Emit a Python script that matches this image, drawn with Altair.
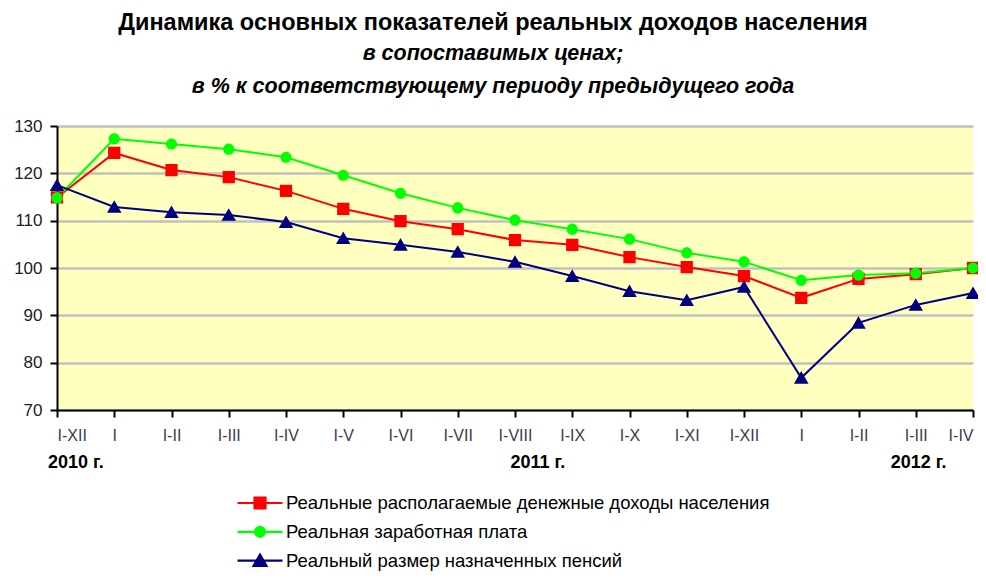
import altair as alt
import pandas as pd

# ---- data ----
period_labels = ["I-XII", "I", "I-II", "I-III", "I-IV", "I-V", "I-VI", "I-VII", "I-VIII",
                 "I-IX", "I-X", "I-XI", "I-XII", "I", "I-II", "I-III", "I-IV"]
series_names = [
    "Реальные располагаемые денежные доходы населения",
    "Реальная заработная плата",
    "Реальный размер назначенных пенсий",
]
income = [114.9, 124.3, 120.7, 119.2, 116.3, 112.5, 109.9, 108.2, 105.9,
          104.9, 102.3, 100.2, 98.3, 93.7, 97.7, 98.7, 100.0]
wages = [114.8, 127.3, 126.2, 125.1, 123.4, 119.6, 115.8, 112.7, 110.1,
         108.2, 106.1, 103.2, 101.3, 97.4, 98.5, 98.9, 100.0]
pensions = [117.5, 112.9, 111.8, 111.2, 109.7, 106.3, 104.9, 103.4, 101.3,
            98.3, 95.1, 93.2, 96.0, 76.8, 88.4, 92.2, 94.7]
year_labels = ["2010 г.", "2011 г.", "2012 г."]
year_pos = [0, 8.4, 15.05]

colors = ["#FF0000", "#00FF00", "#000080"]
# marker shapes (unit = half of sqrt(size)); the open "M..H.." pieces are the legend line,
# which has no area and so is only visible where a stroke is drawn (the legend)
LINE = "M-1.8,0H-0.3M0.3,0H1.8"
shapes = [
    LINE + "M-0.44,-0.44H0.44V0.44H-0.44Z",
    LINE + "M-0.4,0A0.4,0.4 0 1,0 0.4,0A0.4,0.4 0 1,0 -0.4,0Z",
    LINE + "M0,-0.48L0.52,0.42L-0.52,0.42Z",
]

rows = []
for k, (s, vals) in enumerate(zip(series_names, [income, wages, pensions])):
    for i, v in enumerate(vals):
        rows.append({"idx": i, "series": s, "value": v, "order": k})
df = pd.DataFrame(rows)
years_df = pd.DataFrame({"year": year_labels, "pos": year_pos})

FONT = "Liberation Sans"
label_js = "[" + ",".join(f"'{l}'" for l in period_labels) + "]"

x_enc = alt.X(
    "idx:Q",
    scale=alt.Scale(domain=[0, 16], nice=False, zero=False),
    axis=alt.Axis(
        values=list(range(17)), labelExpr=f"{label_js}[datum.value]", title=None,
        grid=False, domainColor="black", domainWidth=2, tickColor="black", tickWidth=2,
        tickSize=7, labelFontSize=16, labelColor="#3a3a4a", labelPadding=10, labelFont=FONT,
    ),
)
y_enc = alt.Y(
    "value:Q",
    scale=alt.Scale(domain=[70, 130], nice=False, zero=False),
    axis=alt.Axis(
        values=[70, 80, 90, 100, 110, 120, 130], title=None,
        grid=True, gridColor="#C0C0C0", gridWidth=2.5,
        domainColor="black", domainWidth=2, tickColor="black", tickWidth=2, tickSize=7,
        labelFontSize=17, labelColor="#222222", labelPadding=8, labelFont=FONT,
    ),
)
color_scale = alt.Scale(domain=series_names, range=colors)
shape_scale = alt.Scale(domain=series_names, range=shapes)

leg = dict(
    title=None, orient="none", legendX=189, legendY=363, symbolSize=625,
    rowPadding=4.8, labelOffset=12, labelFontSize=18.5, labelFont=FONT,
    labelColor="black", labelLimit=700, symbolStrokeWidth=2.2,
)

lines = alt.Chart(df).mark_line(strokeWidth=2).encode(
    x=x_enc, y=y_enc,
    color=alt.Color("series:N", scale=color_scale, legend=alt.Legend(**leg)),
    detail="series:N",
)

points = alt.Chart(df).mark_point(filled=True, opacity=1, size=780, strokeWidth=0).encode(
    x="idx:Q", y="value:Q",
    color=alt.Color("series:N", scale=color_scale, legend=alt.Legend(**leg)),
    stroke=alt.Stroke("series:N", scale=color_scale, legend=alt.Legend(**leg)),
    shape=alt.Shape("series:N", scale=shape_scale, legend=alt.Legend(**leg)),
    order="order:Q",
)

years_left = alt.Chart(years_df).transform_filter("datum.pos == 0").mark_text(
    fontSize=18, fontWeight="bold", font=FONT, color="black", baseline="middle",
    align="left", dx=-9,
).encode(x="pos:Q", y=alt.value(337), text="year:N")

years_center = alt.Chart(years_df).transform_filter("datum.pos > 0").mark_text(
    fontSize=18, fontWeight="bold", font=FONT, color="black", baseline="middle",
    align="center",
).encode(x="pos:Q", y=alt.value(337), text="year:N")

chart = alt.layer(lines, points, years_left, years_center).properties(
    width=916, height=284,
    background="white",
    autosize=alt.AutoSizeParams(type="none"),
    padding={"left": 49, "top": 118, "right": 5, "bottom": 161},
    title=alt.Title(
        text="Динамика основных показателей реальных доходов населения",
        subtitle=["в сопоставимых ценах;", "в % к соответствующему периоду предыдущего года"],
        anchor="middle", dx=-22, offset=20,
        font=FONT, fontSize=23.5, fontWeight="bold", color="black",
        subtitleFont=FONT, subtitleFontSize=21.5,
        subtitleFontStyle="italic", subtitleFontWeight="bold", subtitleColor="black",
        subtitleLineHeight=33, subtitlePadding=8,
    ),
).configure_view(
    fill="#FFFFC0", stroke=None
)

chart.save("out.html", embed_options={"renderer": "svg", "actions": False})
